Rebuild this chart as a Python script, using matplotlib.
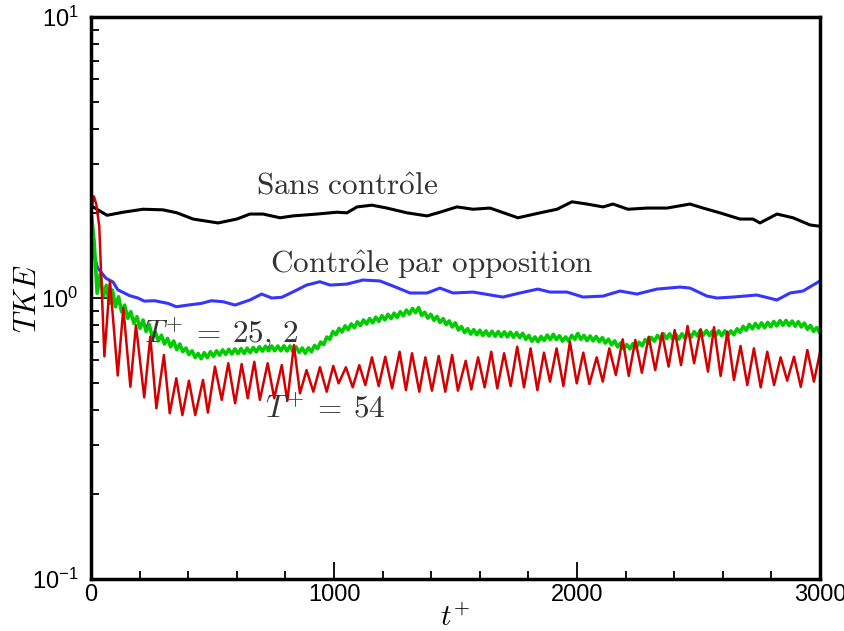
"""TKE vs t+ : sans contrôle, contrôle par opposition, T+ = 25,2 et T+ = 54."""

import matplotlib
matplotlib.use("Agg")
import matplotlib.pyplot as plt
import numpy as np
from matplotlib.ticker import FixedLocator, NullFormatter

plt.rcParams["mathtext.fontset"] = "cm"
plt.rcParams["font.family"] = ["Liberation Sans Narrow", "Liberation Sans", "DejaVu Sans"]

# --- Sans contrôle (noir) ---
black_t = [0, 8, 66, 132, 214, 296, 354, 420, 523, 600, 654, 708, 778, 831, 930,
           1012, 1053, 1095, 1156, 1218, 1300, 1383, 1436, 1506, 1572, 1642, 1757,
           1848, 1918, 1979, 2041, 2107, 2148, 2210, 2288, 2370, 2465, 2519, 2588,
           2671, 2724, 2753, 2823, 2889, 2959, 3000]
black_v = [2.15, 2.11, 1.97, 2.02, 2.07, 2.06, 2.01, 1.91, 1.85, 1.91, 1.99, 1.99,
           1.93, 1.96, 1.99, 2.02, 2.01, 2.11, 2.14, 2.09, 2.01, 1.96, 2.02, 2.11,
           2.07, 2.09, 1.93, 2.01, 2.07, 2.20, 2.16, 2.11, 2.16, 2.07, 2.09, 2.09,
           2.16, 2.09, 2.01, 1.91, 1.91, 1.85, 1.99, 1.93, 1.82, 1.80]

# --- Contrôle par opposition (bleu) ---
blue_t = [0, 4, 10, 27, 50, 62, 91, 110, 139, 158, 193, 219, 262, 317, 351, 399,
          454, 495, 544, 593, 654, 702, 744, 785, 833, 887, 942, 984, 1053, 1119,
          1189, 1243, 1313, 1383, 1436, 1490, 1572, 1695, 1765, 1839, 1889, 1959,
          2025, 2107, 2177, 2247, 2329, 2424, 2465, 2535, 2576, 2642, 2740, 2823,
          2877, 2930, 3000]
blue_v = [2.0, 1.7, 1.45, 1.28, 1.21, 1.175, 1.14, 1.07, 1.04, 1.02, 1.0, 0.975,
          0.978, 0.957, 0.931, 0.944, 0.957, 0.978, 0.97, 0.944, 0.984, 1.033, 1.0,
          1.006, 1.053, 1.112, 1.143, 1.112, 1.121, 1.159, 1.15, 1.103, 1.042, 1.042,
          1.085, 1.042, 1.05, 1.008, 1.042, 1.076, 1.05, 1.05, 1.008, 1.016, 1.059,
          1.033, 1.076, 1.094, 1.085, 1.016, 1.0, 1.008, 1.025, 0.984, 1.042, 1.059,
          1.15]

# --- T+ = 25,2 (vert) : creux / pics tous les T+/2 ---
green_period = 25.2
green_v = [
    2.05, 1.60, 1.04, 1.22, 1.01, 1.11, 0.957, 1.068, 0.931, 1.01,
    0.894, 0.944, 0.847, 0.894, 0.813, 0.858, 0.780, 0.835, 0.760, 0.805,
    0.728, 0.757, 0.704, 0.737, 0.686, 0.718, 0.670, 0.703, 0.655, 0.686,
    0.644, 0.664, 0.629, 0.649, 0.614, 0.635, 0.608, 0.639, 0.613, 0.644,
    0.620, 0.649, 0.626, 0.654, 0.630, 0.657, 0.632, 0.659, 0.634, 0.661,
    0.635, 0.663, 0.639, 0.667, 0.643, 0.671, 0.647, 0.674, 0.649, 0.675,
    0.649, 0.675, 0.649, 0.676, 0.648, 0.675, 0.645, 0.670, 0.640, 0.664,
    0.636, 0.665, 0.644, 0.678, 0.660, 0.697, 0.683, 0.726, 0.713, 0.760,
    0.740, 0.780, 0.757, 0.796, 0.771, 0.809, 0.784, 0.823, 0.798, 0.836,
    0.808, 0.845, 0.816, 0.855, 0.826, 0.865, 0.836, 0.875, 0.845, 0.883,
    0.853, 0.894, 0.864, 0.906, 0.877, 0.918, 0.887, 0.925, 0.867, 0.890,
    0.848, 0.875, 0.833, 0.860, 0.818, 0.845, 0.804, 0.829, 0.789, 0.816,
    0.769, 0.791, 0.753, 0.778, 0.744, 0.772, 0.740, 0.768, 0.736, 0.764,
    0.733, 0.762, 0.731, 0.760, 0.729, 0.758, 0.727, 0.756, 0.725, 0.753,
    0.723, 0.749, 0.713, 0.736, 0.702, 0.727, 0.699, 0.730, 0.706, 0.738,
    0.712, 0.743, 0.711, 0.734, 0.702, 0.727, 0.702, 0.736, 0.713, 0.748,
    0.713, 0.736, 0.705, 0.733, 0.704, 0.730, 0.699, 0.723, 0.691, 0.714,
    0.681, 0.704, 0.670, 0.692, 0.659, 0.683, 0.659, 0.688, 0.664, 0.696,
    0.676, 0.711, 0.690, 0.724, 0.702, 0.736, 0.713, 0.746, 0.717, 0.746,
    0.714, 0.743, 0.714, 0.746, 0.719, 0.752, 0.725, 0.759, 0.733, 0.767,
    0.737, 0.766, 0.735, 0.764, 0.734, 0.764, 0.734, 0.764, 0.734, 0.764,
    0.740, 0.777, 0.755, 0.793, 0.768, 0.806, 0.777, 0.812, 0.782, 0.816,
    0.784, 0.819, 0.790, 0.825, 0.796, 0.831, 0.800, 0.832, 0.798, 0.828,
    0.794, 0.824, 0.789, 0.814, 0.774, 0.799, 0.761, 0.785, 0.753,
]
green_t = np.arange(len(green_v)) * green_period / 2

# --- T+ = 54 (rouge) : pics et creux ---
red_t = [0, 12, 22, 34, 55, 78, 110, 133, 162, 185, 219, 244, 269, 300, 324, 351,
         376, 403, 429, 461, 481, 510, 538, 565, 593, 620, 645, 672, 695, 727, 754,
         785, 808, 835, 860, 887, 915, 942, 970, 997, 1019, 1049, 1077, 1104, 1129,
         1156, 1184, 1211, 1239, 1270, 1296, 1321, 1351, 1376, 1403, 1431, 1458,
         1486, 1510, 1542, 1565, 1593, 1620, 1647, 1672, 1700, 1727, 1754, 1782,
         1809, 1837, 1864, 1889, 1916, 1944, 1971, 1999, 2026, 2051, 2081, 2106,
         2133, 2160, 2188, 2213, 2240, 2267, 2295, 2322, 2350, 2377, 2402, 2428,
         2455, 2482, 2509, 2539, 2564, 2591, 2619, 2646, 2673, 2701, 2728, 2756,
         2783, 2811, 2838, 2865, 2893, 2921, 2948, 2975, 3000]
red_v = [2.05, 2.3, 2.15, 1.8, 0.62, 1.15, 0.53, 0.92, 0.483, 0.80, 0.443, 0.728,
         0.405, 0.627, 0.389, 0.518, 0.383, 0.508, 0.383, 0.511, 0.391, 0.570, 0.434,
         0.586, 0.422, 0.582, 0.44, 0.593, 0.434, 0.586, 0.44, 0.577, 0.431, 0.68,
         0.458, 0.554, 0.464, 0.567, 0.464, 0.573, 0.497, 0.567, 0.481, 0.577, 0.490,
         0.615, 0.486, 0.618, 0.477, 0.644, 0.470, 0.636, 0.464, 0.615, 0.468, 0.622,
         0.464, 0.627, 0.468, 0.598, 0.473, 0.615, 0.481, 0.644, 0.477, 0.636, 0.486,
         0.671, 0.481, 0.662, 0.470, 0.639, 0.504, 0.662, 0.486, 0.699, 0.497, 0.639,
         0.494, 0.615, 0.504, 0.662, 0.532, 0.713, 0.528, 0.709, 0.542, 0.728, 0.554,
         0.749, 0.570, 0.769, 0.577, 0.795, 0.586, 0.774, 0.547, 0.787, 0.528, 0.759,
         0.511, 0.675, 0.490, 0.662, 0.481, 0.644, 0.490, 0.615, 0.508, 0.618, 0.483,
         0.653, 0.504, 0.64]

labels = {
    "sans": (r"$\mathrm{Sans\ contr\hat{o}le}$", 1053, 2.50),
    "opp": (r"$\mathrm{Contr\hat{o}le\ par\ opposition}$", 1403, 1.32),
    "t25": (r"$T^{+}\:=\:25,\,2$", 535, 0.75),
    "t54": (r"$T^{+}\:=\:54$", 963, 0.40),
}

fig = plt.figure(figsize=(8.45, 6.31), dpi=100)
ax = fig.add_axes([0.1077, 0.0824, 0.8627, 0.8906])

ax.plot(black_t, black_v, color="black", lw=2.2)
ax.plot(blue_t, blue_v, color="#3535ff", lw=2.2)
ax.plot(green_t, green_v, color="#00cc00", lw=2.6)
ax.plot(red_t, red_v, color="#d40000", lw=1.8)

ax.set_yscale("log")
ax.set_xlim(0, 3000)
ax.set_ylim(0.1, 10)

ax.xaxis.set_major_locator(FixedLocator([0, 1000, 2000, 3000]))
ax.xaxis.set_minor_locator(FixedLocator(np.arange(0, 3001, 200)))
ax.set_xticklabels(["0", "1000", "2000", "3000"])
ax.yaxis.set_major_locator(FixedLocator([0.1, 1, 10]))
ax.yaxis.set_minor_locator(FixedLocator([k * 10.0 ** e for e in (-1, 0) for k in range(2, 10)]))
ax.yaxis.set_minor_formatter(NullFormatter())
ax.set_yticklabels([r"$\mathregular{10^{-1}}$", r"$\mathregular{10^{0}}$", r"$\mathregular{10^{1}}$"])

ax.tick_params(which="both", direction="in", top=False, right=False, width=1.3, labelsize=17)
ax.tick_params(which="major", length=12)
ax.tick_params(which="minor", length=6)
ax.tick_params(axis="y", pad=9)
for s in ax.spines.values():
    s.set_linewidth(2.5)

ax.set_xlabel(r"$t^{+}$", fontsize=21)
ax.xaxis.set_label_coords(0.5, -0.045)
ax.set_ylabel(r"$TKE$", fontsize=22)
ax.yaxis.set_label_coords(-0.066, 0.5)

for txt, tx, ty in labels.values():
    ax.text(tx, ty, txt, fontsize=22.5, color="#333333", ha="center", va="center")

fig.savefig("out.png", dpi=100)
